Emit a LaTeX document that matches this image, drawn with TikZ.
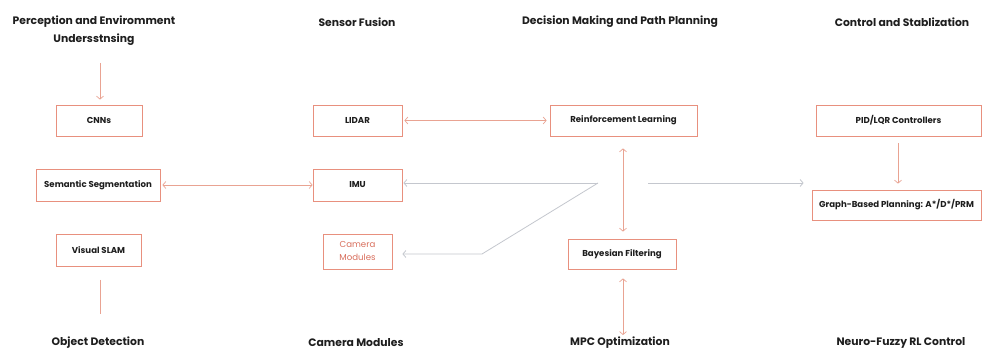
\documentclass[tikz,border=0pt]{standalone}
\usepackage{fontspec}
\setmainfont{Poppins}
\usetikzlibrary{arrows.meta}
\definecolor{boxred}{HTML}{E8907E}
\definecolor{linered}{HTML}{E9A392}
\definecolor{linegray}{HTML}{C4C7CE}
\definecolor{txt}{HTML}{1E1E1E}
\definecolor{camred}{HTML}{D9705E}
\begin{document}
\begin{tikzpicture}[x=1pt,y=-1pt,
  >={Straight Barb[length=3pt,width=7pt]},
  hdr/.style={font=\bfseries\fontsize{10.8}{18}\selectfont, text=txt, align=center, inner sep=0pt},
  bx/.style={draw=boxred, line width=0.8pt, inner sep=0pt, align=center,
    font=\bfseries\fontsize{8.6}{10}\selectfont, text=txt},
  rarr/.style={draw=linered, line width=0.7pt},
  garr/.style={draw=linegray, line width=0.8pt}]
\useasboundingbox[fill=white] (0,0) rectangle (982,352);
% headers
\node[hdr] (h1) at (94,31) {Perception and Enviromment\\Undersstnsing};
\node[hdr] (h2) at (357,22) {Sensor Fusion};
\node[hdr] (h3) at (620,22) {Decision Making and Path Planning};
\node[hdr] (h4) at (902,22) {Control and Stablization};
\node[hdr] (b1) at (98,343) {Object Detection};
\node[hdr] (b2) at (356,343) {Camera Modules};
\node[hdr] (b3) at (620,343) {MPC Optimization};
\node[hdr] (b4) at (901,343) {Neuro-Fuzzy RL Control};
% boxes
\node[bx, minimum width=86, minimum height=31] (cnn) at (99,120.5) {CNNs};
\node[bx, minimum width=124, minimum height=32] (seg) at (98,185) {Semantic Segmentation};
\node[bx, minimum width=85, minimum height=32] (slam) at (98.5,250) {Visual SLAM};
\node[bx, minimum width=89, minimum height=31] (lidar) at (357.5,120.5) {LIDAR};
\node[bx, minimum width=89, minimum height=32] (imu) at (357.5,185) {IMU};
\node[bx, minimum width=69, minimum height=35, font=\fontsize{8.6}{13}\selectfont, text=camred] (cam) at (357.5,251.5) {Camera\\Modules};
\node[bx, minimum width=147, minimum height=31] (rl) at (623.5,120.5) {Reinforcement Learning};
\node[bx, minimum width=108, minimum height=30] (bay) at (622,254) {Bayesian Filtering};
\node[bx, minimum width=165, minimum height=31] (pid) at (898.5,120.5) {PID/LQR Controllers};
\node[bx, minimum width=169, minimum height=30] (graph) at (896.5,205) {Graph-Based Planning: A*/D*/PRM};
% coordinates
\coordinate (ctop) at (100,63);
\coordinate (s1) at (100,280);
\coordinate (s2) at (100,314);
\coordinate (mpc) at (623,335);
\coordinate (apex) at (598,183);
\coordinate (bend) at (482,254);
\coordinate (gs) at (648,183);
% red connectors
\draw[rarr,->,shorten >=5pt] (ctop) -- (cnn.north -| ctop);
\draw[rarr] (s1) -- (s2);
\draw[rarr,<->,shorten <=2pt] (seg.east) -- (imu.west);
\draw[rarr,<->,shorten <=2pt,shorten >=3pt] (lidar.east) -- (rl.west);
\draw[rarr,<->,shorten <=12pt,shorten >=7pt] (rl.south -| mpc) -- (bay.north -| mpc);
\draw[rarr,<->,shorten <=9pt] (bay.south -| mpc) -- (mpc);
\draw[rarr,->,shorten <=7pt,shorten >=6pt] (pid.south -| 898,0) -- (graph.north -| 898,0);
% gray connectors
\draw[garr,->,shorten >=1pt] (apex) -- (imu.east |- apex);
\draw[garr,->,shorten >=10pt] (apex) -- (bend) -- (cam.east |- bend);
\draw[garr,->,shorten >=8pt] (gs) -- (graph.west |- gs);
\end{tikzpicture}
\end{document}
